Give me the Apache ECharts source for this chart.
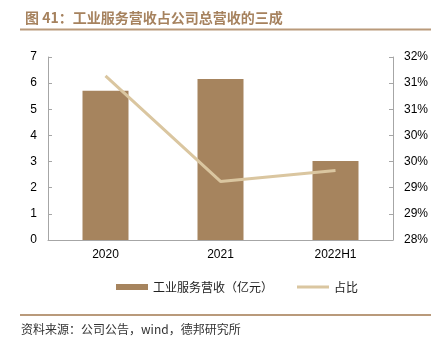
<!DOCTYPE html>
<html><head><meta charset="utf-8">
<script src="https://cdn.jsdelivr.net/npm/echarts@6/dist/echarts.min.js"></script>
<style>html,body{margin:0;padding:0;background:#fff}#c{width:442px;height:348px}</style>
</head><body><div id="c"></div>
<script>
var categories = ['2020', '2021', '2022H1'];
var revenue = [5.71, 6.16, 3.02];
var share = [31.64, 29.62, 29.83];
var leftTicks = {min: 0, max: 7, interval: 1};
var rightTicks = {min: 28.5, max: 32, interval: 0.5};
var titleText = '图 41：工业服务营收占公司总营收的三成';
var sourceText = '资料来源：公司公告，wind，德邦研究所';
var barName = '工业服务营收（亿元）';
var lineName = '占比';

var chart = echarts.init(document.getElementById('c'), null, {renderer: 'canvas'});
var font = '"Liberation Sans", Arial, sans-serif';
var cjk = '"Noto Sans CJK SC", sans-serif';
var axisGray = '#a6a6a6';
chart.setOption({
  animation: false,
  backgroundColor: '#fff',
  title: {
    text: titleText, left: 20, top: 6,
    textStyle: {color: '#a6825e', fontSize: 14, fontWeight: 'bold', fontFamily: cjk}
  },
  graphic: [
    {type: 'rect', shape: {x: 20, y: 28.5, width: 411, height: 2}, style: {fill: '#b99a7b'}},
    {type: 'rect', shape: {x: 20, y: 314, width: 411, height: 2}, style: {fill: '#b99a7b'}},
    {type: 'text', left: 21, top: 323, style: {text: sourceText, fill: '#333', font: '12px "Noto Sans CJK SC", sans-serif'}}
  ],
  legend: {
    top: 276, left: 111, itemGap: 24, itemWidth: 32, itemHeight: 6,
    textStyle: {fontSize: 12, color: '#222', fontFamily: cjk},
    data: [
      {name: barName, icon: 'rect'},
      {name: lineName, icon: 'path://M0,0L32,0L32,3L0,3Z'}
    ]
  },
  grid: {left: 48, right: 49, top: 57, bottom: 108},
  xAxis: {
    type: 'category', data: categories, boundaryGap: true,
    axisLine: {lineStyle: {color: axisGray, width: 1}},
    axisTick: {inside: true, length: 4, lineStyle: {color: axisGray}},
    axisLabel: {color: '#000', fontSize: 12, margin: 9, fontFamily: font}
  },
  yAxis: [
    {
      type: 'value', min: leftTicks.min, max: leftTicks.max, interval: leftTicks.interval,
      splitLine: {show: false},
      axisLine: {show: true, lineStyle: {color: axisGray}},
      axisTick: {show: true, inside: true, length: 4, lineStyle: {color: axisGray}},
      axisLabel: {color: '#000', fontSize: 12, margin: 11, fontFamily: font}
    },
    {
      type: 'value', min: rightTicks.min, max: rightTicks.max, interval: rightTicks.interval,
      position: 'right', splitLine: {show: false},
      axisLine: {show: true, lineStyle: {color: axisGray}},
      axisTick: {show: true, inside: true, length: 4, lineStyle: {color: axisGray}},
      axisLabel: {color: '#000', fontSize: 12, margin: 11, fontFamily: font,
        formatter: function (v) { return Math.floor(v + 1e-9) + '%'; }}
    }
  ],
  series: [
    {name: barName, type: 'bar', data: revenue, barWidth: '40%', yAxisIndex: 0,
      itemStyle: {color: '#a6845e'}},
    {name: lineName, type: 'line', data: share, yAxisIndex: 1, showSymbol: false, symbol: 'none',
      lineStyle: {color: '#dac6a0', width: 3}, itemStyle: {color: '#dac6a0'}}
  ]
});
</script></body></html>
